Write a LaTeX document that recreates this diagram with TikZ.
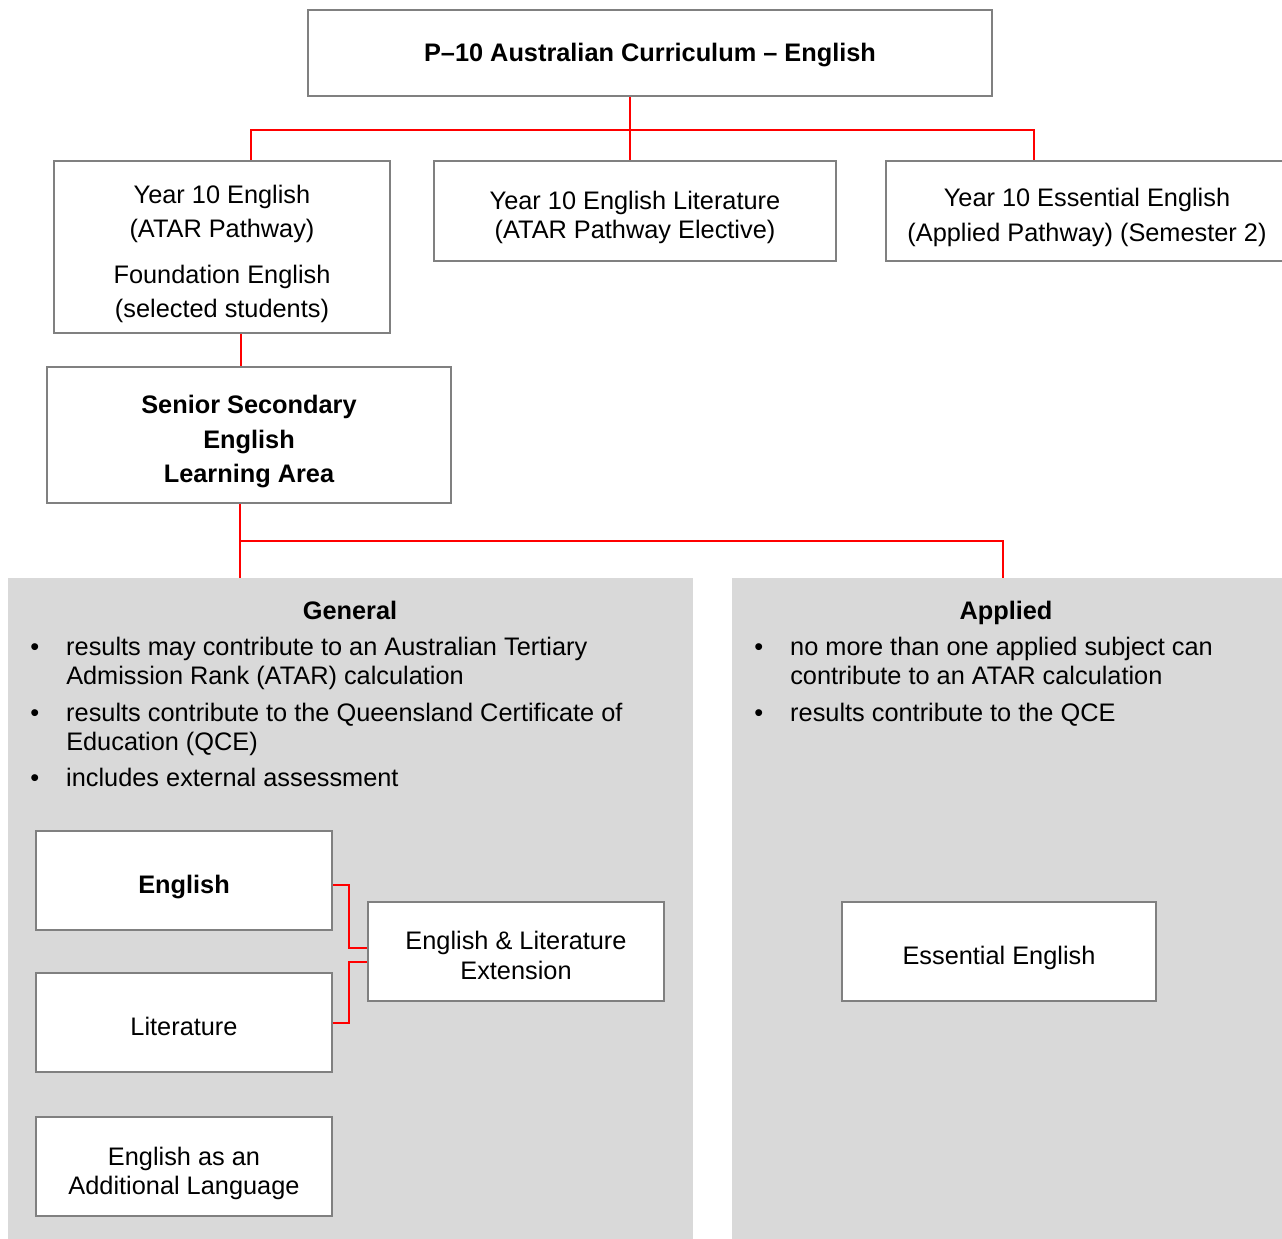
\documentclass[tikz,border=0pt]{standalone}
\usepackage{fontspec}
\setmainfont{Liberation Sans}
\usepackage{xcolor}
\usepackage{array}
\usetikzlibrary{positioning, calc}
\definecolor{boxgray}{HTML}{808080}
\definecolor{panelgray}{HTML}{D9D9D9}
\definecolor{linkred}{HTML}{FF0000}
\newcommand{\px}{0.75pt}
\newcommand{\tstrut}{\rule{0pt}{24pt}}
\newcommand{\bstrut}{\rule[-4pt]{0pt}{4pt}}

\begin{document}
\begin{tikzpicture}[x=0.75pt, y=-0.75pt,
    box/.style    = {draw=boxgray, line width=1.6pt, fill=white,
      align=center, inner sep=0pt, font=\fontsize{19}{25.5}\selectfont},
    panel/.style  = {fill=panelgray, inner sep=0pt, anchor=north west},
    link/.style   = {draw=linkred, line width=1.5pt},
    title/.style  = {inner sep=0pt, anchor=base, font=\fontsize{19}{22}\selectfont\bfseries},
    bullets/.style = {anchor=base west, inner sep=0pt, align=left,
      font=\fontsize{19}{21.75}\selectfont}
  ]
  \useasboundingbox (0,0) rectangle (1282,1239);

  \node[box, minimum width=684*\px, minimum height=86*\px] (top) at (650,53)
    {\rule{0pt}{17pt}\bfseries P--10 Australian Curriculum -- English};
  \node[box, minimum width=336*\px, minimum height=172*\px] (yreng) at (222,247)
    {\tstrut Year 10 English\\(ATAR Pathway)\\[9pt]Foundation English\\(selected students)\bstrut};
  \node[box, minimum width=402*\px, minimum height=100*\px,
    font=\fontsize{19}{21.75}\selectfont] (yrlit) at (635,211)
    {\tstrut Year 10 English Literature\\(ATAR Pathway Elective)\bstrut};
  \node[box, minimum width=402*\px, minimum height=100*\px,
    font=\fontsize{19}{26.25}\selectfont] (yress) at (1087,211)
    {\tstrut Year 10 Essential English\\(Applied Pathway) (Semester 2)\bstrut};
  \node[box, minimum width=404*\px, minimum height=136*\px,
    font=\fontsize{19}{25.9}\selectfont\bfseries] (senior) at (249,435)
    {\tstrut Senior Secondary\\English\\Learning Area\bstrut};

  \node[panel, minimum width=685*\px, minimum height=661*\px] (general) at (8,578) {};
  \node[panel, minimum width=552*\px, minimum height=661*\px] (applied) at (732,578) {};

  \node[title] (gentitle) at (350,619) {General};
  \node[title] (apptitle) at (1006,619) {Applied};

  \node[bullets] (genlist) at (30,655) {%
    \begin{tabular}[t]{@{}p{27pt}@{}l@{}}
      \textbullet & results may contribute to an Australian Tertiary\\
                  & Admission Rank (ATAR) calculation\\[6pt]
      \textbullet & results contribute to the Queensland Certificate of\\
                  & Education (QCE)\\[5.25pt]
      \textbullet & includes external assessment
    \end{tabular}};
  \node[bullets] (applist) at (754,655) {%
    \begin{tabular}[t]{@{}p{27pt}@{}l@{}}
      \textbullet & no more than one applied subject can\\
                  & contribute to an ATAR calculation\\[6pt]
      \textbullet & results contribute to the QCE
    \end{tabular}};

  \node[box, minimum width=296*\px, minimum height=99*\px, font=\fontsize{19}{22}\selectfont\bfseries]
    (eng) at (184,880.5) {\tstrut English\bstrut};
  \node[box, minimum width=296*\px, minimum height=99*\px] (lit) at (184,1022.5)
    {\tstrut Literature\bstrut};
  \node[box, minimum width=296*\px, minimum height=99*\px,
    font=\fontsize{19}{21.75}\selectfont] (eal) at (184,1166.5)
    {\tstrut English as an\\Additional Language\bstrut};
  \node[box, minimum width=296*\px, minimum height=99*\px,
    font=\fontsize{19}{22.5}\selectfont] (ext) at (516,951.5)
    {\tstrut English \& Literature\\Extension\bstrut};
  \node[box, minimum width=314*\px, minimum height=99*\px] (ess) at (999,951.5)
    {\tstrut Essential English\bstrut};

  \coordinate (busl) at (251,130);
  \coordinate (busr) at (1034,130);
  \coordinate (splitl) at (240,541);
  \coordinate (splitr) at (1003,541);

  \draw[link] ([xshift=-5*\px]yrlit.north |- top.south) -- ([xshift=-5*\px]yrlit.north);
  \draw[link] (yreng.north -| busl) -- (busl) -- (busr) -- (yress.north -| busr);
  \draw[link] ([xshift=-8*\px]senior.north) -- ([xshift=-8*\px]senior.north |- yreng.south);
  \draw[link] (senior.south -| splitl) -- (general.north -| splitl);
  \draw[link] (splitl) -- (splitr) -- (applied.north -| splitr);
  \draw[link] ([yshift=-3.4pt]eng.east) -- ++(16,0) |- ([yshift=2.6pt]ext.west);
  \draw[link] (lit.east) -- ++(16,0) |- ([yshift=-7.9pt]ext.west);
\end{tikzpicture}
\end{document}
